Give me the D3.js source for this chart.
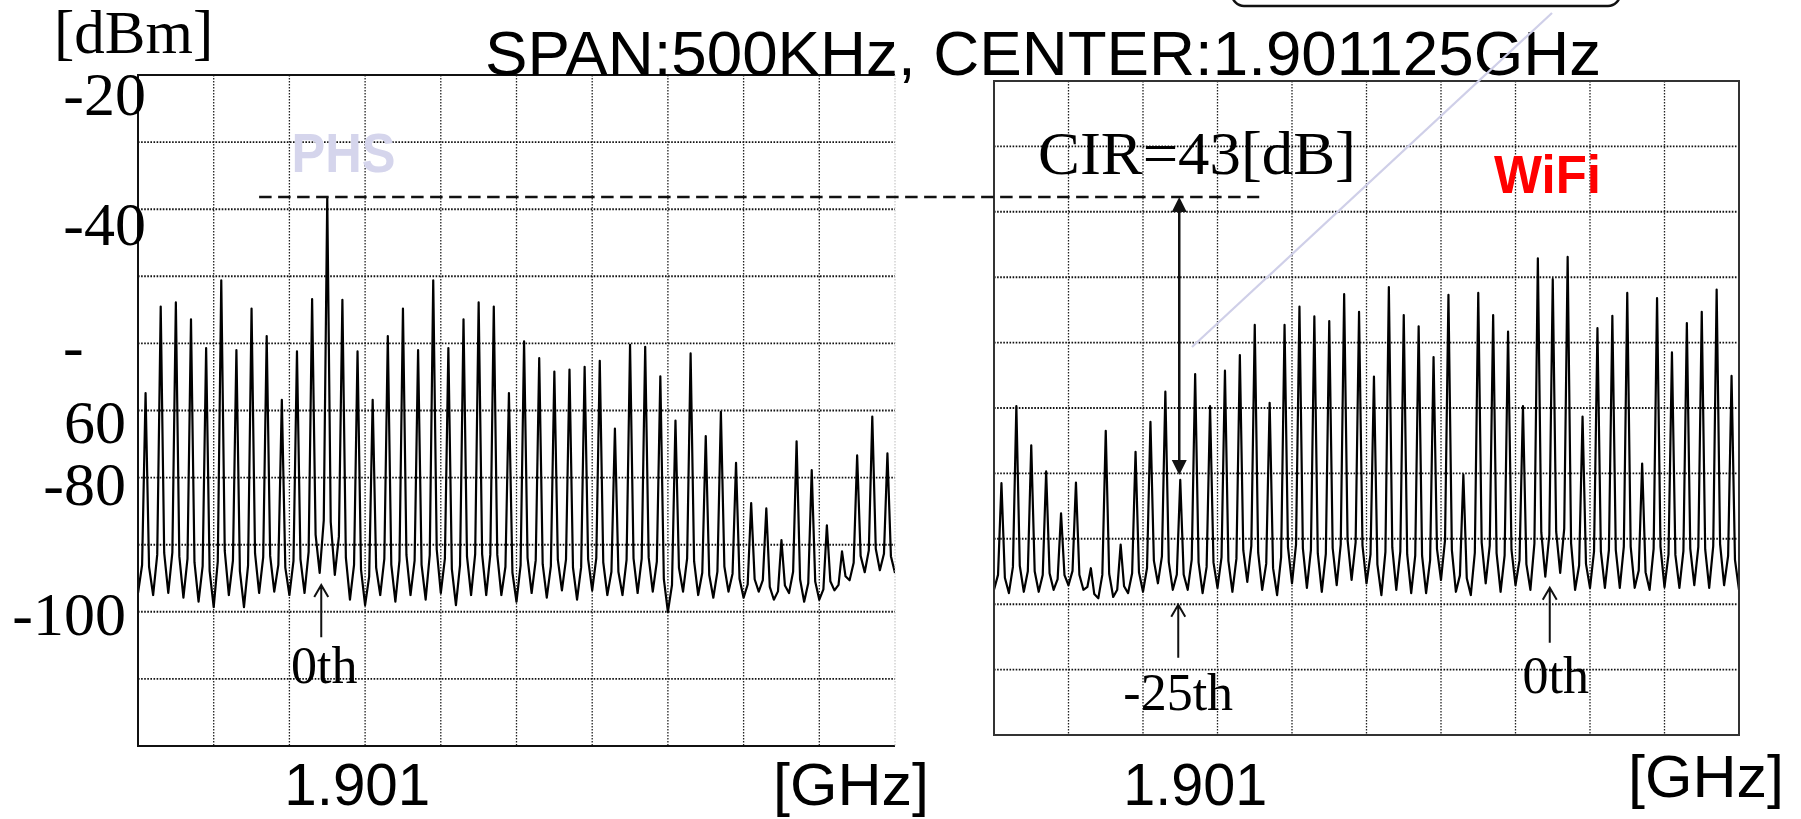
<!DOCTYPE html>
<html><head><meta charset="utf-8">
<script src="https://cdn.jsdelivr.net/npm/d3@7/dist/d3.min.js"></script>
<style>body{margin:0;background:#fff}svg{display:block}</style>
</head><body><svg id="c" width="1801" height="819"></svg>
<script>
// ---------------- DATA ----------------
// frequency offsets in kHz relative to 1.901 GHz; span 500 kHz centred on 1.901125 GHz
const spanKHz = [-125, 375];
const harmonicSpacingKHz = 10;
const phsZeroKHz = 0;      // PHS carrier (0th) at 1.901 GHz
const wifiZeroKHz = 250;   // WiFi 0th harmonic at 1.90125 GHz

const phsOrders = [-12,-11,-10,-9,-8,-7,-6,-5,-4,-3,-2,-1,0,1,2,3,4,5,6,7,8,9,10,11,12,13,14,15,16,17,18,19,20,21,22,23,24,25,26,27,28,29,30,31,32,33,34,35,36,37];
const phsPeaks = [-67.4,-54.5,-53.9,-56.4,-60.7,-50.6,-61.0,-54.8,-58.9,-68.4,-61.2,-53.4,-38.2,-53.5,-61.2,-68.4,-58.9,-54.8,-61.0,-50.6,-60.7,-56.4,-53.9,-54.5,-67.4,-59.7,-62.2,-64.2,-63.9,-63.5,-62.6,-72.7,-60.2,-60.5,-64.9,-71.5,-61.5,-73.8,-70.2,-77.8,-83.8,-84.6,-89.3,-74.6,-78.9,-87.1,-91.0,-76.7,-70.9,-76.4];
const phsValleys = [-97.2,-97.5,-97.2,-97.9,-98.5,-99.3,-97.5,-99.3,-97.2,-97.0,-97.5,-97.2,-94.2,-94.5,-98.2,-99.0,-97.5,-98.5,-97.5,-98.2,-97.2,-99.0,-97.5,-97.5,-97.5,-98.5,-97.2,-97.9,-96.8,-98.2,-96.8,-97.5,-97.5,-97.2,-97.0,-100.0,-97.0,-97.5,-97.9,-97.0,-97.9,-97.0,-98.2,-97.2,-98.5,-98.2,-96.8,-95.3,-94.1,-93.8,-94.2];

const wifiOrders = [-37,-36,-35,-34,-33,-32,-31,-30,-29,-28,-27,-26,-25,-24,-23,-22,-21,-20,-19,-18,-17,-16,-15,-14,-13,-12,-11,-10,-9,-8,-7,-6,-5,-4,-3,-2,-1,0,1,2,3,4,5,6,7,8,9,10,11,12];
const wifiPeaks = [-81.5,-69.7,-75.7,-79.7,-86.1,-81.4,-94.5,-73.5,-90.9,-76.7,-72.1,-67.5,-81.0,-64.8,-69.7,-64.3,-61.9,-57.3,-69.2,-57.3,-54.5,-56.0,-56.7,-52.6,-55.3,-65.2,-51.5,-55.8,-57.5,-62.2,-52.7,-80.2,-52.4,-55.8,-58.3,-69.7,-47.1,-50.3,-46.9,-71.3,-57.8,-55.9,-52.4,-78.5,-53.2,-61.5,-57.0,-55.3,-51.9,-65.1];
const wifiValleys = [-97.8,-98.3,-98.1,-98.1,-97.8,-97.1,-97.8,-99.1,-98.9,-98.3,-98.1,-96.8,-97.8,-97.8,-98.3,-97.5,-98.1,-96.6,-97.8,-98.6,-96.8,-97.5,-98.1,-97.1,-96.3,-96.8,-98.6,-97.8,-98.3,-98.3,-96.3,-98.1,-98.6,-96.8,-98.1,-97.1,-97.8,-95.8,-95.2,-97.8,-97.5,-97.5,-97.5,-97.5,-97.8,-97.4,-97.5,-97.1,-97.5,-97.1,-97.8];

const dbmDomain = [-120, -20];
const yTickValues = [-20, -40, -60, -80, -100];
const yTickLabels = ["-20", "-40", "-60", "-80", "-100"];
const xTickValues = [0];
const xTickLabels = ["1.901"];
const cirLabel = "CIR=43[dB]";
const titleText = "SPAN:500KHz, CENTER:1.901125GHz";

// ---------------- LAYOUT ----------------
const SERIF = "'Liberation Serif','Times New Roman',serif";
const SANS = "'Liberation Sans',Arial,sans-serif";
const svg = d3.select("#c");
svg.append("rect").attr("width", 1801).attr("height", 819).attr("fill", "#fff");

// spectrum-analyser style curve: each rise/fall has a knee close to the noise floor,
// so the harmonic lines look like narrow needles with flared feet
function SpikeCurve(ctx) { this._context = ctx; }
SpikeCurve.prototype = {
  areaStart() { this._line = 0; },
  areaEnd() { this._line = NaN; },
  lineStart() { this._point = 0; },
  lineEnd() { this._line = 1 - (this._line || 0); },
  point(x, y) {
    x = +x; y = +y;
    if (this._point === 0) {
      this._point = 1;
      this._line ? this._context.lineTo(x, y) : this._context.moveTo(x, y);
    } else {
      const x0 = this._x, y0 = this._y;
      let kx, ky;
      if (y0 > y) { kx = x0 + (x - x0) * 0.54; ky = y0 - (y0 - y) * 0.14; }
      else { kx = x - (x - x0) * 0.54; ky = y - (y - y0) * 0.14; }
      this._context.lineTo(kx, ky);
      this._context.lineTo(x, y);
    }
    this._x = x; this._y = y;
  }
};
const curveSpike = ctx => new SpikeCurve(ctx);

const panels = [
  {id: "L", x0: 138, x1: 895, y0: 75, y1: 746, orders: phsOrders, peaks: phsPeaks, valleys: phsValleys, zero: phsZeroKHz, frame: false, tickDx: 30, tickLen: 146, ghz: {x: 773, y: 805, size: 60}},
  {id: "R", x0: 994, x1: 1739, y0: 81, y1: 735, orders: wifiOrders, peaks: wifiPeaks, valleys: wifiValleys, zero: wifiZeroKHz, frame: true, tickDx: 15, tickLen: 144, ghz: {x: 1628, y: 797, size: 60}}
];

panels.forEach(p => {
  p.x = d3.scaleLinear().domain(spanKHz).range([p.x0, p.x1]);
  p.y = d3.scaleLinear().domain(dbmDomain).range([p.y1, p.y0]);
  const g = svg.append("g");

  // grid
  const hVals = d3.range(dbmDomain[0] + 10, dbmDomain[1], 10);
  g.selectAll(".hg").data(hVals).join("line")
    .attr("x1", p.x0).attr("x2", p.x1).attr("y1", d => p.y(d)).attr("y2", d => p.y(d))
    .attr("stroke", "#111").attr("stroke-width", 1.9).attr("stroke-dasharray", "1.6 1.5");
  const vVals = d3.range(spanKHz[0] + 50, spanKHz[1], 50);
  g.selectAll(".vg").data(vVals).join("line")
    .attr("x1", d => p.x(d)).attr("x2", d => p.x(d)).attr("y1", p.y0).attr("y2", p.y1)
    .attr("stroke", "#222").attr("stroke-width", 1.3).attr("stroke-dasharray", "1.5 1.5");

  // clip
  svg.append("clipPath").attr("id", "clip" + p.id).append("rect")
    .attr("x", p.x0).attr("y", p.y0).attr("width", p.x1 - p.x0).attr("height", p.y1 - p.y0);

  // trace points: valley floor, harmonic peak, valley floor ...
  const pts = [];
  p.orders.forEach((n, i) => {
    const f = p.zero + n * harmonicSpacingKHz;
    pts.push([f - harmonicSpacingKHz / 2, p.valleys[i]], [f, p.peaks[i]]);
  });
  const lastF = p.zero + p.orders[p.orders.length - 1] * harmonicSpacingKHz + harmonicSpacingKHz / 2;
  pts.push([lastF, p.valleys[p.orders.length]]);
  const line = d3.line().x(d => p.x(d[0])).y(d => p.y(d[1])).curve(curveSpike);
  g.append("path").attr("clip-path", `url(#clip${p.id})`).attr("d", line(pts))
    .attr("fill", "none").attr("stroke", "#000").attr("stroke-width", 2.2).attr("stroke-linejoin", "round");

  // frame
  if (p.frame) {
    g.append("rect").attr("x", p.x0).attr("y", p.y0).attr("width", p.x1 - p.x0).attr("height", p.y1 - p.y0)
      .attr("fill", "none").attr("stroke", "#333").attr("stroke-width", 2);
  } else {
    g.append("path").attr("d", `M${p.x1},${p.y0}H${p.x0}V${p.y1}H${p.x1}`)
      .attr("fill", "none").attr("stroke", "#111").attr("stroke-width", 2);
    g.append("line").attr("x1", p.x1).attr("x2", p.x1).attr("y1", p.y0).attr("y2", p.y1)
      .attr("stroke", "#bbb").attr("stroke-width", 1).attr("stroke-dasharray", "1.5 1.5");
  }

  // x tick label + unit
  g.selectAll(".xt").data(xTickValues).join("text")
    .attr("x", d => p.x(d) + p.tickDx).attr("y", 805).attr("text-anchor", "middle")
    .attr("font-family", SANS).attr("font-size", 60)
    .attr("textLength", p.tickLen).attr("lengthAdjust", "spacingAndGlyphs")
    .text((d, i) => xTickLabels[i]);
  g.append("text").attr("x", p.ghz.x).attr("y", p.ghz.y).attr("font-family", SANS)
    .attr("font-size", p.ghz.size).attr("textLength", 156).attr("lengthAdjust", "spacingAndGlyphs").text("[GHz]");
});

const L = panels[0], R = panels[1];

// y tick labels (left only)
const yLab = d3.scaleLinear().domain([-20, -100]).range([115, 635]);
yTickValues.forEach((v, i) => {
  const lab = yTickLabels[i];
  const ax = v >= -40 ? 146 : 126;
  if (lab === "-60") {
    svg.append("text").attr("x", 63).attr("y", yLab(v) - 8).attr("font-family", SERIF).attr("font-size", 62).text("-");
    svg.append("text").attr("x", ax).attr("y", yLab(v) + 68).attr("text-anchor", "end").attr("font-family", SERIF).attr("font-size", 62).text("60");
  } else {
    svg.append("text").attr("x", ax).attr("y", yLab(v)).attr("text-anchor", "end")
      .attr("font-family", SERIF).attr("font-size", 62).text(lab);
  }
});
svg.append("text").attr("x", 54).attr("y", 53).attr("font-family", SERIF).attr("font-size", 61).text("[dBm]");

// title
svg.append("text").attr("x", 485).attr("y", 75).attr("font-family", SANS).attr("font-size", 63)
  .attr("textLength", 1116).attr("lengthAdjust", "spacingAndGlyphs").text(titleText);

// callout box and pointer (partly off the top edge)
svg.append("rect").attr("x", 1232).attr("y", -30).attr("width", 388).attr("height", 36).attr("rx", 12)
  .attr("fill", "none").attr("stroke", "#111").attr("stroke-width", 2.5);
svg.append("line").attr("x1", 1552).attr("y1", 13).attr("x2", 1192).attr("y2", 347)
  .attr("stroke", "#cfcfe8").attr("stroke-width", 2.2);

// series labels
svg.append("text").attr("x", 291.6).attr("y", 172).attr("font-family", SANS).attr("font-weight", "bold")
  .attr("font-size", 55).attr("fill", "#d5d5ec").attr("textLength", 104).attr("lengthAdjust", "spacingAndGlyphs").text("PHS");
svg.append("text").attr("x", 1494).attr("y", 193).attr("font-family", SANS).attr("font-weight", "bold")
  .attr("font-size", 54).attr("fill", "#ff0000").attr("textLength", 107).attr("lengthAdjust", "spacingAndGlyphs").text("WiFi");

// CIR dashed reference line at PHS carrier level
const phsCarrier = phsPeaks[phsOrders.indexOf(0)];
const wifiM25 = wifiPeaks[wifiOrders.indexOf(-25)];
const yTop = L.y(phsCarrier);
svg.append("line").attr("x1", L.x(-45)).attr("x2", R.x(53)).attr("y1", yTop).attr("y2", yTop)
  .attr("stroke", "#111").attr("stroke-width", 2.5).attr("stroke-dasharray", "12.5 6.5");
svg.append("text").attr("x", 1038).attr("y", 174).attr("font-family", SERIF).attr("font-size", 62)
  .attr("textLength", 318).attr("lengthAdjust", "spacingAndGlyphs").text(cirLabel);

// CIR double arrow
const cx = R.x(wifiZeroKHz - 25 * harmonicSpacingKHz) - 1;
const yBot = R.y(wifiM25) - 5;
svg.append("line").attr("x1", cx).attr("x2", cx).attr("y1", yTop + 12).attr("y2", yBot - 12)
  .attr("stroke", "#111").attr("stroke-width", 2.5);
svg.append("path").attr("d", `M${cx},${yTop}L${cx - 7.5},${yTop + 15}L${cx + 7.5},${yTop + 15}Z`).attr("fill", "#111");
svg.append("path").attr("d", `M${cx},${yBot}L${cx - 7.5},${yBot - 15}L${cx + 7.5},${yBot - 15}Z`).attr("fill", "#111");

// harmonic order annotations
const marks = [
  {p: L, f: phsZeroKHz, dx: -6, tip: -96.0, tail: -103.8, lab: "0th", labY: -110.6, labDx: 3},
  {p: R, f: wifiZeroKHz - 25 * harmonicSpacingKHz, dx: -2, tip: -100.1, tail: -108.2, lab: "-25th", labY: -116.2, labDx: 0},
  {p: R, f: wifiZeroKHz, dx: -3, tip: -97.5, tail: -105.9, lab: "0th", labY: -113.6, labDx: 6}
];
marks.forEach(m => {
  const ax = m.p.x(m.f) + m.dx, t = m.p.y(m.tip), b = m.p.y(m.tail);
  svg.append("path").attr("d", `M${ax},${b}V${t}M${ax - 7},${t + 12}L${ax},${t}L${ax + 7},${t + 12}`)
    .attr("fill", "none").attr("stroke", "#111").attr("stroke-width", 2);
  svg.append("text").attr("x", ax + m.labDx).attr("y", m.p.y(m.labY)).attr("text-anchor", "middle")
    .attr("font-family", SERIF).attr("font-size", 52).text(m.lab);
});
</script>
</body></html>
